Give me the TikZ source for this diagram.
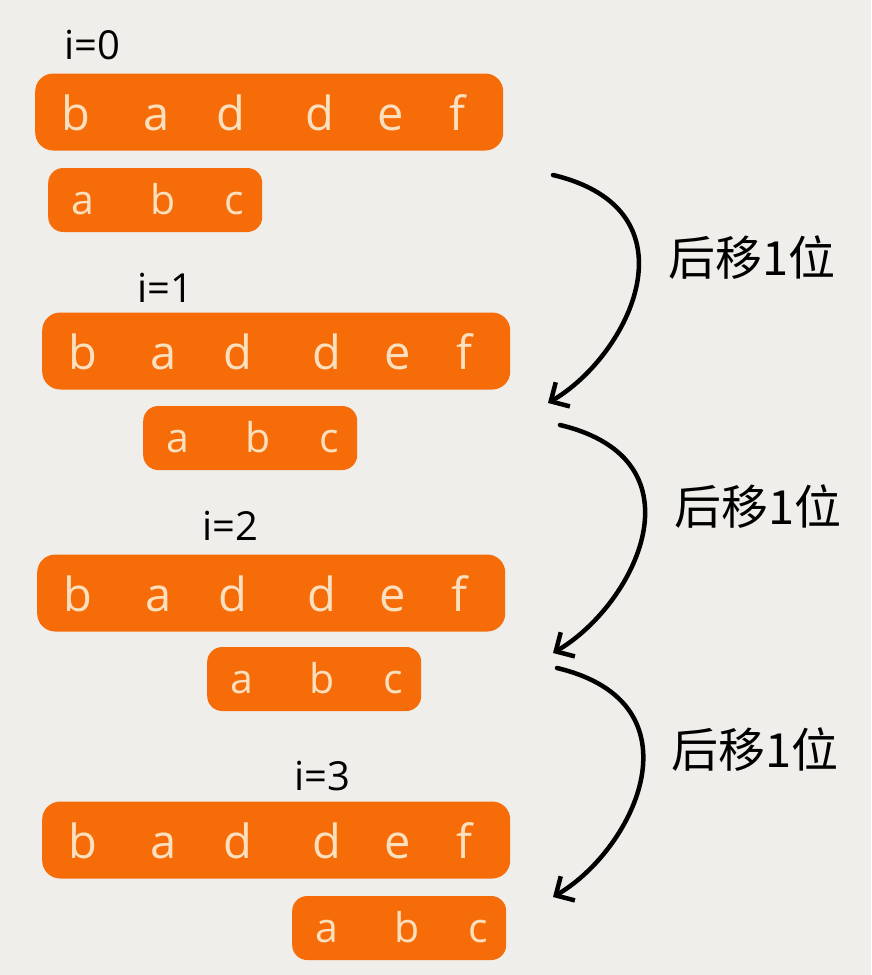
\documentclass[tikz,border=0pt]{standalone}
\usepackage{fontspec}
\setmainfont{Open Sans}
\newfontfamily\cjk{Noto Sans CJK SC}
\usetikzlibrary{arrows.meta}
\definecolor{BG}{RGB}{239,238,234}
\definecolor{O1}{RGB}{246,108,8}
\definecolor{T1}{RGB}{250,224,190}
\tikzset{
  mainbar/.style={fill=O1, rounded corners=18pt, minimum width=468pt, minimum height=77pt, inner sep=0pt, anchor=west},
  patbar/.style={fill=O1, rounded corners=15pt, minimum width=214pt, minimum height=64pt, inner sep=0pt, anchor=west},
  mainch/.style={text=T1, anchor=base, inner sep=0pt, font=\fontsize{47}{47}\selectfont},
  patch/.style={text=T1, anchor=base, inner sep=0pt, font=\fontsize{41}{41}\selectfont},
  idx/.style={font=\fontsize{40}{40}\selectfont},
  shiftlabel/.style={font=\cjk\fontsize{47}{47}\selectfont},
  hop/.style={line width=4.5pt, line cap=round, -{Straight Barb[length=14pt,width=28pt]}}
}
\begin{document}
\begin{tikzpicture}[x=1pt, y=-1pt]
      \fill[BG] (0,0) rectangle (871,975);
      \useasboundingbox (0,0) rectangle (871,975);
      % text and pattern, one row per value of i
      \foreach \r/\mx/\my/\px/\py/\ix/\iy in {0/35/112/48/200/92/45, 1/42/351/143/438/165/288, 2/37/593/207/679/230/526, 3/42/840/292/928/322/776}{
        \node[idx] (i\r) at (\ix,\iy) {i=\r};
        \node[mainbar] (main\r) at (\mx,\my) {};
        \node[patbar] (pat\r) at (\px,\py) {};
        \foreach \c/\dx [count=\k] in {b/41, a/122, d/196, d/285, e/356, f/422}
          \node[mainch] (main\r-\k) at ([shift={(\dx,18)}]main\r.west) {\c};
        \foreach \c/\dx [count=\k] in {a/35, b/115, c/186}
          \node[patch] (pat\r-\k) at ([shift={(\dx,14)}]pat\r.west) {\c};
      }
      % shift arrows
      \coordinate (s0) at (553,175); \coordinate (e0) at (548,403);
      \coordinate (s1) at (560,425); \coordinate (e1) at (553,653);
      \coordinate (s2) at (557,668); \coordinate (e2) at (553,897);
      \node[shiftlabel] (lab0) at (752,258) {后移1位};
      \node[shiftlabel] (lab1) at (758,507) {后移1位};
      \node[shiftlabel] (lab2) at (755,750) {后移1位};
      \foreach \a in {0,1,2}
        \draw[hop] (s\a) .. controls +(147,35) and +(82,-48) .. (e\a);
    \end{tikzpicture}
\end{document}
